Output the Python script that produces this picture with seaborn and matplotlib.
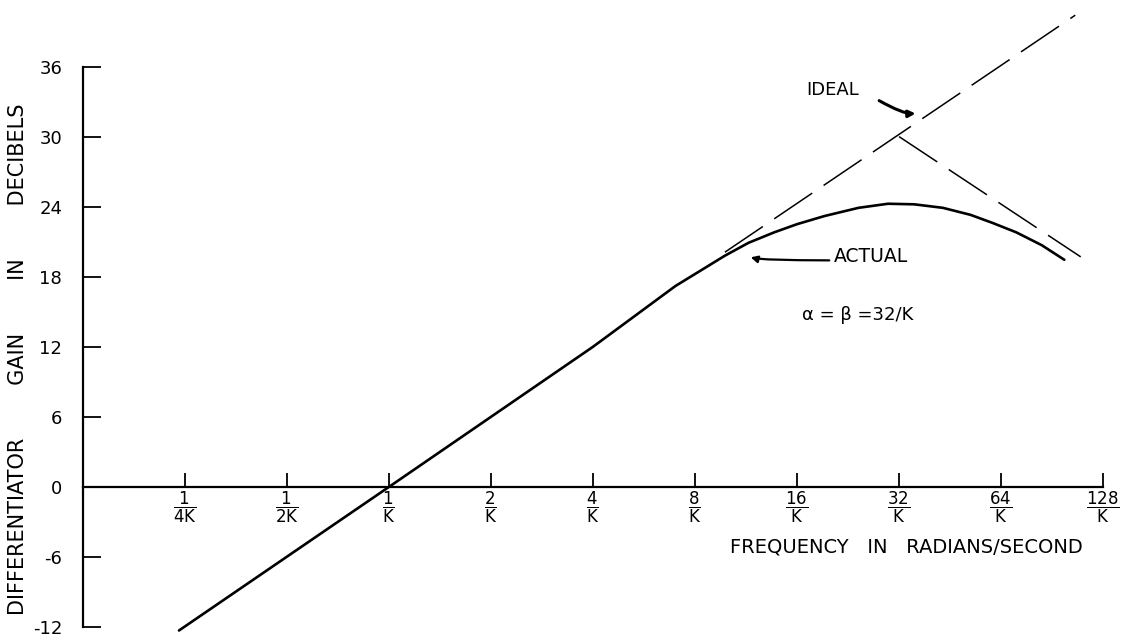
# Bode-style gain plot of a practical differentiator
import matplotlib
matplotlib.use('Agg')
import pandas as pd
import matplotlib.pyplot as plt
import seaborn as sns

# Frequency axis (in units of 1/K) and gain axis
freq_ticks = [0.25, 0.5, 1, 2, 4, 8, 16, 32, 64, 128]
freq_labels = ['1/4K', '1/2K', '1/K', '2/K', '4/K', '8/K', '16/K', '32/K', '64/K', '128/K']
gain_ticks = [-12, -6, 0, 6, 12, 18, 24, 30, 36]

# Actual differentiator response
actual_freq = [0.24, 1, 4, 7.0, 9.8, 11.5, 13.7, 16.0, 19.3, 24.3, 29.7, 35.5,
               43.1, 52.0, 60.5, 71.0, 84.4, 98.4]
actual_gain = [-12.3, 0, 12, 17.2, 19.8, 20.9, 21.8, 22.5, 23.2, 23.9, 24.25, 24.2,
               23.9, 23.3, 22.6, 21.8, 20.7, 19.45]

# Ideal asymptote and the roll-off asymptote
ideal_freq = [9.8, 106]
ideal_gain = [20.1, 40.4]
rolloff_freq = [32, 110]
rolloff_gain = [30.0, 19.7]

sns.set_style('white')
plt.rcParams['font.family'] = ['DejaVu Sans']
plt.rcParams['mathtext.fontset'] = 'custom'
plt.rcParams['mathtext.rm'] = 'DejaVu Sans'
plt.rcParams['text.color'] = 'black'
plt.rcParams['axes.labelcolor'] = 'black'

actual = pd.DataFrame({'freq': actual_freq, 'gain': actual_gain})
ideal = pd.DataFrame({'freq': ideal_freq, 'gain': ideal_gain})
rolloff = pd.DataFrame({'freq': rolloff_freq, 'gain': rolloff_gain})

fig = plt.figure(figsize=(11.23, 6.41), dpi=100)
ax = fig.add_axes([83 / 1123, 0, 1040 / 1123, 1])

sns.lineplot(x='freq', y='gain', data=actual, ax=ax, color='black', linewidth=1.9)
sns.lineplot(x='freq', y='gain', data=ideal, ax=ax, color='black', linewidth=1.1,
             linestyle=(0, (30, 9)))
sns.lineplot(x='freq', y='gain', data=rolloff, ax=ax, color='black', linewidth=1.1,
             linestyle=(0, (30, 9)))

ax.set_xscale('log', base=2)
ax.set_xlim(0.125, 146.6)
ax.set_ylim(-13.2, 41.7)

# axes drawn like the hand-lettered original
ax.spines['top'].set_visible(False)
ax.spines['right'].set_visible(False)
ax.spines['bottom'].set_position(('data', 0))
ax.spines['bottom'].set_bounds(0.125, 128)
ax.spines['left'].set_bounds(-12, 36)
for s in ['left', 'bottom']:
    ax.spines[s].set_linewidth(1.6)
    ax.spines[s].set_color('black')

ax.set_xticks(freq_ticks)
ax.set_xticklabels([r'$\dfrac{\mathrm{%s}}{\mathrm{%s}}$' % tuple(l.split('/')) for l in freq_labels])
ax.minorticks_off()
ax.tick_params(axis='x', bottom=True, direction='in', length=10, width=1.3, pad=2,
               labelsize=12, colors='black')
ax.set_yticks(gain_ticks)
ax.set_yticklabels([str(v) for v in gain_ticks])
ax.tick_params(axis='y', left=True, direction='in', length=13, width=1.3, pad=15,
               labelsize=13, colors='black')

ax.set_ylabel('DIFFERENTIATOR        GAIN        IN        DECIBELS', fontsize=15)
ax.yaxis.set_label_coords(-0.053, 0.44)
ax.set_xlabel('FREQUENCY   IN   RADIANS/SECOND', fontsize=14)
ax.xaxis.set_label_coords(0.792, 0.162)

# annotations
ax.text(17.0, 34.0, 'IDEAL', fontsize=13, ha='left', va='center')
ax.annotate('', xy=(36.5, 32.0), xytext=(27.5, 33.2),
            arrowprops=dict(arrowstyle='-|>', color='black', lw=2.2,
                            connectionstyle='angle3,angleA=-30,angleB=10'))
ax.text(20.5, 19.7, 'ACTUAL', fontsize=13.5, ha='left', va='center')
ax.annotate('', xy=(11.5, 19.8), xytext=(20.3, 19.4),
            arrowprops=dict(arrowstyle='-|>', color='black', lw=1.6,
                            connectionstyle='angle3,angleA=0,angleB=60'))
ax.text(16.5, 14.7, 'α = β =32/K', fontsize=13, ha='left', va='center')

fig.savefig('out.png', dpi=100)
